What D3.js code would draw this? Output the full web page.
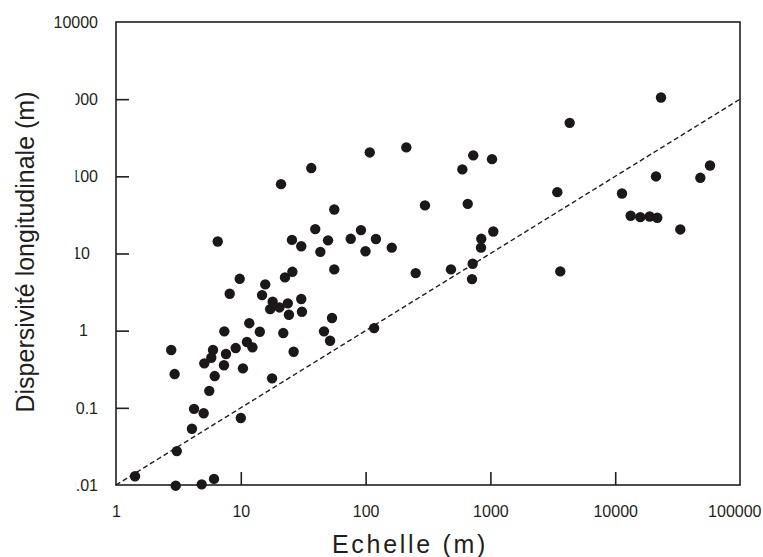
<!DOCTYPE html>
<html>
<head>
<meta charset="utf-8">
<script src="https://cdn.jsdelivr.net/npm/d3@7"></script>
<style>
  html, body { margin: 0; padding: 0; background: #fff; }
  svg { display: block; font-family: "Liberation Sans", Arial, sans-serif; }
</style>
</head>
<body>
<svg id="chart" width="763" height="557"></svg>
<script>
// Échelle (m) for each observation
const echelle = [
  1.42, 3.01, 4.86, 6.1, 3.07, 4.06, 4.22, 5.04, 10.0, 5.59,
  2.77, 2.95, 6.18, 5.10, 5.80, 5.99, 7.33, 7.61, 7.38, 9.10,
  10.4, 11.2, 12.4, 11.7, 14.2, 17.8, 26.5, 21.9, 8.15, 9.80,
  14.8, 15.7, 18.0, 17.2, 20.4, 23.8, 24.3, 30.5, 30.9, 22.6,
  25.9, 56.1, 53.8, 46.4, 51.9, 117, 43.4, 30.5, 25.7, 39.5,
  50.0, 56.1, 76.0, 91.8, 121, 99.8, 162, 6.53, 21.0, 36.7,
  108, 212, 299, 252, 483, 596, 729, 1030, 658, 845,
  1055, 841, 721, 712, 4318, 3436, 3631, 23280, 57500, 48100,
  21230, 11330, 13300, 15890, 18890, 21740, 33240
];
// Dispersivité longitudinale (m) for each observation
const dispersivite = [
  0.013, 0.0098, 0.0102, 0.012, 0.0275, 0.0536, 0.097, 0.085, 0.0738, 0.166,
  0.561, 0.274, 0.258, 0.377, 0.446, 0.561, 0.356, 0.498, 0.98, 0.595,
  0.325, 0.712, 0.608, 1.25, 0.968, 0.241, 0.533, 0.931, 3.01, 4.70,
  2.89, 3.98, 2.37, 1.90, 2.0, 2.26, 1.61, 2.57, 1.76, 4.90,
  5.79, 6.22, 1.46, 0.98, 0.74, 1.08, 10.5, 12.4, 15.0, 20.7,
  14.8, 37.2, 15.5, 20.1, 15.4, 10.7, 11.9, 14.3, 79.2, 128,
  204, 237, 42.0, 5.57, 6.22, 123, 187, 167, 44.0, 15.5,
  19.3, 11.9, 7.36, 4.66, 493, 62.4, 5.86, 1052, 138, 95.7,
  99.7, 60.0, 30.8, 29.6, 30.2, 29.0, 20.5
];
// Reference line: dispersivité = échelle / 100
const refLineX = [1, 100000];
const refLineY = [0.01, 1000];

const xTicks = [1, 10, 100, 1000, 10000, 100000];
const xTickLabels = ["1", "10", "100", "1000", "10000", "100000"];
const yTicks = [0.01, 0.1, 1, 10, 100, 1000, 10000];
const yTickLabels = ["0.01", "0.1", "1", "10", "100", "1000", "10000"];

const xTitle = "Echelle (m)";
const yTitle = "Dispersivité longitudinale (m)";

const svg = d3.select("#chart");
const W = 763, H = 557;
const L = 116, R = 740, T = 22, B = 485;
const ink = "#231f20";

const x = d3.scaleLog().domain([1, 100000]).range([L, R]);
const y = d3.scaleLog().domain([0.01, 10000]).range([B, T]);

svg.append("rect").attr("width", W).attr("height", H).attr("fill", "#fff");

// clip for y tick labels (left part hidden below top label)
const defs = svg.append("defs");
const cp = defs.append("clipPath").attr("id", "ylabclip");
cp.append("rect").attr("x", 0).attr("y", 0).attr("width", W).attr("height", 40);
cp.append("rect").attr("x", 75.5).attr("y", 40).attr("width", W).attr("height", H);

// frame
svg.append("rect")
  .attr("x", L).attr("y", T).attr("width", R - L).attr("height", B - T)
  .attr("fill", "none").attr("stroke", ink).attr("stroke-width", 1.6);

// bottom axis (ticks inward)
const xAxis = d3.axisBottom(x).tickValues(xTicks).tickSize(-13)
  .tickFormat((d, i) => xTickLabels[i]);
const gx = svg.append("g").attr("transform", `translate(0,${B})`).call(xAxis);
gx.select(".domain").remove();
gx.selectAll(".tick line").attr("stroke", ink).attr("stroke-width", 1.6)
  .filter(d => d === 1 || d === 100000).remove();
gx.selectAll(".tick text")
  .attr("fill", ink).attr("font-size", 16)
  .attr("font-family", "'Liberation Sans', Arial, sans-serif")
  .attr("y", 32).attr("dy", 0)
  .each(function(d) {
    const t = d3.select(this);
    const w = this.getComputedTextLength();
    const cx = x(d);
    if (cx + w / 2 > W - 2) t.attr("x", (W - 2 - w / 2) - cx);
  });

// left axis (ticks inward)
const yAxis = d3.axisLeft(y).tickValues(yTicks).tickSize(-13)
  .tickFormat((d, i) => yTickLabels[i]);
const gy = svg.append("g").attr("transform", `translate(${L},0)`).call(yAxis);
gy.select(".domain").remove();
gy.selectAll(".tick line").attr("stroke", ink).attr("stroke-width", 1.6)
  .filter(d => d === 0.01 || d === 10000).remove();
gy.attr("clip-path", null);
gy.selectAll(".tick text")
  .attr("fill", ink).attr("font-size", 16)
  .attr("font-family", "'Liberation Sans', Arial, sans-serif")
  .attr("x", d => (d === 1 ? -28 : d === 10 ? -26 : -18))
  .attr("dy", "0.36em");
// move labels into a clipped group
const labG = svg.append("g").attr("clip-path", "url(#ylabclip)");
gy.selectAll(".tick").each(function(d) {
  const txt = d3.select(this).select("text");
  labG.append("text")
    .attr("x", L + (+txt.attr("x")))
    .attr("y", y(d))
    .attr("dy", "0.36em")
    .attr("text-anchor", "end")
    .attr("font-size", 16)
    .attr("fill", ink)
    .text(txt.text());
  txt.remove();
});

// reference dashed line
svg.append("line")
  .attr("x1", x(refLineX[0])).attr("y1", y(refLineY[0]))
  .attr("x2", x(refLineX[1])).attr("y2", y(refLineY[1]))
  .attr("stroke", ink).attr("stroke-width", 1.4)
  .attr("stroke-dasharray", "5,3");

// points
const pts = echelle.map((e, i) => ({ e, d: dispersivite[i] }));
svg.append("g").selectAll("circle").data(pts).join("circle")
  .attr("cx", p => x(p.e)).attr("cy", p => y(p.d))
  .attr("r", 5.2).attr("fill", "#1c1819");

// axis titles
svg.append("text")
  .attr("x", 332).attr("y", 553)
  .attr("font-size", 25).attr("letter-spacing", "2.7px")
  .attr("fill", ink).text(xTitle);

svg.append("text")
  .attr("transform", "translate(33.5,252) rotate(-90)")
  .attr("text-anchor", "middle")
  .attr("font-size", 25)
  .attr("fill", ink).text(yTitle);
</script>
</body>
</html>
